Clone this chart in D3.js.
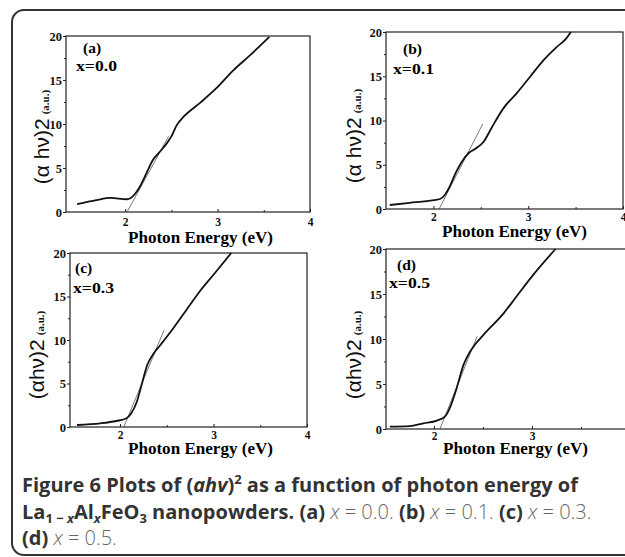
<!DOCTYPE html>
<html>
<head>
<meta charset="utf-8">
<script src="https://cdn.jsdelivr.net/npm/d3@7"></script>
<style>
  body { margin: 0; background: #fff; }
  svg { display: block; }
</style>
</head>
<body>
<script>
// values: photon energy (eV) and (alpha h nu)^2 (a.u.)
var energyA = [1.48, 1.69, 1.84, 2.02, 2.06, 2.11, 2.16, 2.23, 2.30, 2.38, 2.45, 2.50, 2.56, 2.63, 2.81, 2.99, 3.17, 3.35, 3.56];
var signalA = [0.9, 1.36, 1.6, 1.45, 1.6, 2.1, 2.9, 4.4, 5.9, 6.9, 7.8, 8.6, 9.9, 10.8, 12.4, 14.1, 16.1, 17.8, 19.9];

var energyB = [1.54, 1.75, 1.93, 2.07, 2.12, 2.17, 2.24, 2.30, 2.37, 2.45, 2.53, 2.61, 2.74, 2.88, 3.02, 3.16, 3.30, 3.40, 3.45];
var signalB = [0.45, 0.7, 0.9, 1.13, 1.58, 2.5, 4.2, 5.35, 6.3, 6.86, 7.6, 9.1, 11.4, 13.1, 14.95, 16.8, 18.3, 19.25, 20];

var energyC = [1.54, 1.79, 1.96, 2.07, 2.12, 2.18, 2.23, 2.29, 2.36, 2.43, 2.57, 2.71, 2.85, 3.00, 3.19];
var signalC = [0.23, 0.42, 0.69, 1.0, 1.57, 2.9, 4.8, 7.1, 8.45, 9.4, 11.35, 13.45, 15.55, 17.5, 20];

var energyD = [1.55, 1.75, 1.89, 2.03, 2.11, 2.16, 2.23, 2.30, 2.38, 2.50, 2.71, 2.84, 3.01, 3.24];
var signalD = [0.26, 0.33, 0.63, 0.93, 1.37, 2.3, 4.5, 7.1, 8.8, 10.4, 12.85, 14.7, 17.1, 20];

// thin tangent lines (band gap extrapolation)
var tangentEnergyA = [2.02, 2.47], tangentSignalA = [0, 8.6];
var tangentEnergyB = [2.06, 2.52], tangentSignalB = [0, 9.6];
var tangentEnergyC = [2.04, 2.47], tangentSignalC = [0, 11.1];
var tangentEnergyD = [2.06, 2.44], tangentSignalD = [0, 10.3];

var panelNames = ["(a)", "(b)", "(c)", "(d)"];
var compositions = ["x=0.0", "x=0.1", "x=0.3", "x=0.5"];
var xTicks = [2, 3, 4];
var xMinorTicks = [2.5, 3.5];
var yTicks = [0, 5, 10, 15, 20];
var yMinorTicks = [2.5, 7.5, 12.5, 17.5];

var svg = d3.select("body")
  .append("svg")
  .attr("width", 625)
  .attr("height", 557);

// outer rounded frame
svg.append("rect")
  .attr("x", 12).attr("y", 10)
  .attr("width", 640).attr("height", 545)
  .attr("rx", 12)
  .attr("fill", "none")
  .attr("stroke", "#333")
  .attr("stroke-width", 2);

var panels = [
  { e: energyA, s: signalA, te: tangentEnergyA, ts: tangentSignalA, xd: [1.36, 4], xr: [66, 310], yr: [212, 36],
    pad: 6, lab: [128, 243], ylab: 49, yc: 137, space: true, tag: [83, 53], comp: [76, 71] },
  { e: energyB, s: signalB, te: tangentEnergyB, ts: tangentSignalB, xd: [1.5, 4], xr: [386, 623], yr: [209, 32],
    pad: 4, lab: [442, 237], ylab: 361, yc: 136, space: true, tag: [403, 54], comp: [393, 74] },
  { e: energyC, s: signalC, te: tangentEnergyC, ts: tangentSignalC, xd: [1.465, 4], xr: [70, 307], yr: [427, 253],
    pad: 4, lab: [128, 454], ylab: 44, yc: 355, space: false, tag: [75, 273], comp: [73, 293] },
  { e: energyD, s: signalD, te: tangentEnergyD, ts: tangentSignalD, xd: [1.51, 4], xr: [386, 630], yr: [429, 249],
    pad: 3, lab: [443, 454], ylab: 361, yc: 355, space: false, tag: [397, 270], comp: [389, 288] }
];

var serif = "'Liberation Serif', 'Times New Roman', serif";
var sans = "'Liberation Sans', Arial, sans-serif";

panels.forEach(function(p, i){
  var x = d3.scaleLinear().domain(p.xd).range(p.xr);
  var y = d3.scaleLinear().domain([0, 20]).range(p.yr);
  var g = svg.append("g");

  // plot box
  g.append("rect")
    .attr("x", p.xr[0]).attr("y", p.yr[1])
    .attr("width", p.xr[1] - p.xr[0]).attr("height", p.yr[0] - p.yr[1])
    .attr("fill", "none").attr("stroke", "#222").attr("stroke-width", 1.2);

  var left = g.append("g")
    .attr("transform", "translate(" + p.xr[0] + ",0)")
    .call(d3.axisLeft(y).tickValues(yTicks).tickSize(3).tickSizeOuter(0).tickPadding(1));
  g.append("g")
    .attr("transform", "translate(" + p.xr[0] + ",0)")
    .call(d3.axisLeft(y).tickValues(yMinorTicks).tickSize(2).tickSizeOuter(0).tickFormat(""));

  // only ticks that fall inside the window keep their labels
  var shownTicks = xTicks.filter(function(t){ return x(t) <= 624; });
  var bottom = g.append("g")
    .attr("transform", "translate(0," + p.yr[0] + ")")
    .call(d3.axisBottom(x).tickValues(shownTicks).tickSize(-3).tickSizeOuter(0)
      .tickPadding(p.pad).tickFormat(d3.format("d")));
  g.append("g")
    .attr("transform", "translate(0," + p.yr[0] + ")")
    .call(d3.axisBottom(x).tickValues(xMinorTicks).tickSize(-2).tickSizeOuter(0).tickFormat(""));

  g.selectAll(".domain").remove();
  g.selectAll(".tick line").attr("stroke", "#222");
  left.selectAll("text")
    .attr("font-family", serif)
    .attr("font-weight", "bold")
    .attr("font-size", 12.5)
    .attr("fill", "#111");
  bottom.selectAll("text")
    .attr("font-family", serif)
    .attr("font-weight", "bold")
    .attr("font-size", 11.5)
    .attr("fill", "#111");

  // tangent line
  g.append("path")
    .datum(d3.zip(p.te, p.ts))
    .attr("d", d3.line().x(function(d){ return x(d[0]); }).y(function(d){ return y(d[1]); }))
    .attr("stroke", "#555").attr("stroke-width", 0.8).attr("fill", "none");

  // absorption curve
  g.append("path")
    .datum(d3.zip(p.e, p.s))
    .attr("d", d3.line()
      .curve(d3.curveMonotoneX)
      .x(function(d){ return x(d[0]); })
      .y(function(d){ return y(d[1]); }))
    .attr("stroke", "#111").attr("stroke-width", 1.8).attr("fill", "none");

  // panel tags
  g.append("text")
    .attr("x", p.tag[0]).attr("y", p.tag[1])
    .attr("font-family", serif).attr("font-weight", "bold").attr("font-size", 15.5)
    .text(panelNames[i]);
  g.append("text")
    .attr("x", p.comp[0]).attr("y", p.comp[1])
    .attr("font-family", serif).attr("font-weight", "bold").attr("font-size", 15.5)
    .attr("textLength", 41).attr("lengthAdjust", "spacingAndGlyphs")
    .text(compositions[i]);

  // x label
  g.append("text")
    .attr("x", p.lab[0]).attr("y", p.lab[1])
    .attr("font-family", serif).attr("font-weight", "bold").attr("font-size", 16)
    .attr("textLength", 145).attr("lengthAdjust", "spacingAndGlyphs")
    .text("Photon Energy (eV)");

  // y label
  var yl = g.append("text")
    .attr("transform", "translate(" + p.ylab + "," + p.yc + ") rotate(-90)")
    .attr("text-anchor", "middle")
    .attr("fill", "#111");
  yl.append("tspan")
    .attr("font-family", sans).attr("font-size", 21)
    .text(p.space ? "(\u03b1 h\u03bd)2" : "(\u03b1h\u03bd)2");
  yl.append("tspan")
    .attr("font-family", serif).attr("font-weight", "bold").attr("font-size", 11)
    .attr("dx", 4)
    .text("(a.u.)");
});

// caption
var cap = svg.append("g")
  .attr("font-family", "'Open Sans', 'Noto Sans', sans-serif")
  .attr("font-size", 20)
  .attr("fill", "#333");

var l1 = cap.append("text").attr("x", 22).attr("y", 492).attr("font-weight", 700);
l1.append("tspan").text("Figure 6 ");
l1.append("tspan").text("Plots of (");
l1.append("tspan").attr("font-style", "italic").text("ahv");
l1.append("tspan").text(")");
l1.append("tspan").attr("font-size", 13).attr("dy", -8).text("2");
l1.append("tspan").attr("dy", 8).text(" as a function of photon energy of");

var l2 = cap.append("text").attr("x", 22).attr("y", 519).attr("font-weight", 700);
l2.append("tspan").text("La");
l2.append("tspan").attr("font-size", 13).attr("dy", 4).text("1 \u2212 ");
l2.append("tspan").attr("font-size", 13).attr("font-style", "italic").text("x");
l2.append("tspan").attr("dy", -4).text("Al");
l2.append("tspan").attr("font-size", 13).attr("dy", 4).attr("font-style", "italic").text("x");
l2.append("tspan").attr("dy", -4).text("FeO");
l2.append("tspan").attr("font-size", 13).attr("dy", 4).text("3");
l2.append("tspan").attr("dy", -4).text(" nanopowders. ");

var parts = [["(a) ", "x = 0.0. "], ["(b) ", "x = 0.1. "], ["(c) ", "x = 0.3."]];
parts.forEach(function(pt){
  l2.append("tspan").text(pt[0]);
  l2.append("tspan").attr("font-weight", 300).attr("fill", "#666").attr("font-style", "italic").text("x");
  l2.append("tspan").attr("font-weight", 300).attr("fill", "#666").text(pt[1].slice(1));
});

var l3 = cap.append("text").attr("x", 22).attr("y", 545).attr("font-weight", 700);
l3.append("tspan").text("(d) ");
l3.append("tspan").attr("font-weight", 300).attr("fill", "#666").attr("font-style", "italic").text("x");
l3.append("tspan").attr("font-weight", 300).attr("fill", "#666").text(" = 0.5.");
</script>
</body>
</html>
